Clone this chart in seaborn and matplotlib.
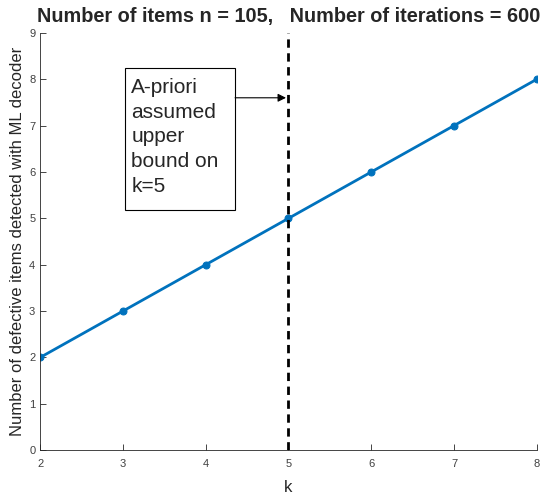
import matplotlib
matplotlib.use('Agg')
import matplotlib.pyplot as plt
from matplotlib.patches import Rectangle
import seaborn as sns
import pandas as pd

# data
k_values = [2, 3, 4, 5, 6, 7, 8]
detected = [2, 3, 4, 5, 6, 7, 8]
k_assumed = 5

df = pd.DataFrame({'k': k_values, 'detected': detected})

sns.set_style('ticks')
plt.rcParams['font.family'] = ['Liberation Sans', 'DejaVu Sans']

fig, ax = plt.subplots(figsize=(5.5, 4.98), dpi=100)
fig.subplots_adjust(left=0.073, right=0.976, top=0.934, bottom=0.096)

sns.lineplot(data=df, x='k', y='detected', ax=ax, color='#0072BD', linewidth=2,
             marker='o', markersize=5, markeredgecolor='#0072BD')
ax.axvline(k_assumed, color='black', linestyle='--', linewidth=2, dashes=(3, 2))

# text box with arrow pointing at the dashed line
ax.add_patch(Rectangle((3.03, 5.18), 1.325, 3.07, fill=True, fc='white',
                       ec='black', lw=0.8, zorder=3))
ax.text(3.1, 8.03, 'A-priori\nassumed\nupper\nbound on\nk=5', fontsize=15,
        va='top', ha='left', linespacing=1.38, zorder=4)
ax.annotate('', xy=(4.97, 7.6), xytext=(4.355, 7.6),
            arrowprops=dict(arrowstyle='-|>', color='black', lw=0.8,
                            mutation_scale=12, shrinkA=0, shrinkB=0))

ax.set_xlim(2, 8)
ax.set_ylim(0, 9)
ax.set_xticks(k_values)
ax.set_yticks(range(0, 10))
ax.tick_params(direction='in', labelsize=8, length=4, width=0.6,
               colors='#262626', labelcolor='#404040')
ax.tick_params(axis='x', pad=6)
for s in ['top', 'right']:
    ax.spines[s].set_visible(False)
for s in ['left', 'bottom']:
    ax.spines[s].set_linewidth(0.6)
    ax.spines[s].set_color('#262626')

ax.set_xlabel('k', fontsize=12, labelpad=8)
ax.set_ylabel('Number of defective items detected with ML decoder', fontsize=12, labelpad=3)
ax.set_title('Number of items n = 105,   Number of iterations = 600',
             fontsize=14.3, fontweight='bold', pad=8)

plt.savefig('out.png', dpi=100)
